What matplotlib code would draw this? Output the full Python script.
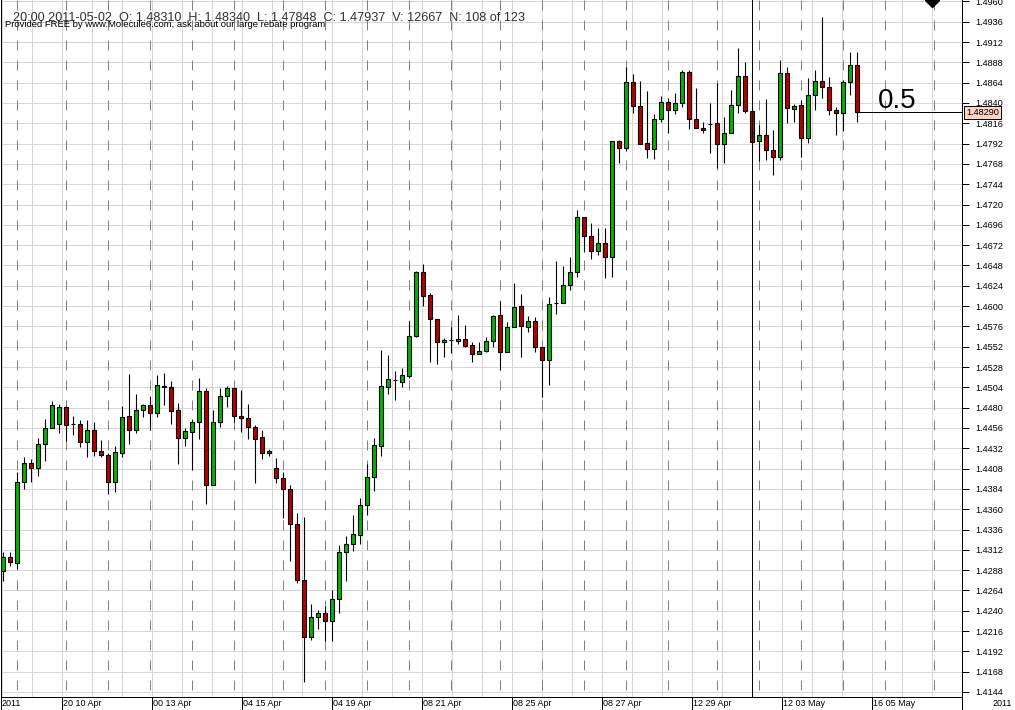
import matplotlib
matplotlib.use('Agg')
import matplotlib.pyplot as plt
import numpy as np
from matplotlib.lines import Line2D

plt.rcParams['font.family'] = ['Liberation Sans', 'DejaVu Sans']

# 4h EURUSD-style bars
opens = [
    1.42869, 1.43035, 1.42964, 1.43921, 1.44145, 1.44086, 1.44370, 1.44559, 1.44606, 1.44807,
    1.44606, 1.44606, 1.44393, 1.44535, 1.44287, 1.44240, 1.43921, 1.44264, 1.44701, 1.44535,
    1.44771, 1.44831, 1.44736, 1.45043, 1.45043, 1.44771, 1.44441, 1.44511, 1.44630, 1.44996,
    1.43885, 1.44630, 1.44937, 1.45031, 1.44701, 1.44677, 1.44571, 1.44452, 1.44264, 1.44086,
    1.43968, 1.43838, 1.43424, 1.42763, 1.42089, 1.42326, 1.42373, 1.42278, 1.42538, 1.43094,
    1.43188, 1.43294, 1.43649, 1.43980, 1.44346, 1.45043, 1.45126, 1.45102, 1.45173, 1.45646,
    1.46402, 1.46130, 1.45847, 1.45575, 1.45599, 1.45587, 1.45610, 1.45539, 1.45433, 1.45469,
    1.45587, 1.45894, 1.45457, 1.45752, 1.46000, 1.45752, 1.45823, 1.45516, 1.45362, 1.46036,
    1.46036, 1.46248, 1.46402, 1.47052, 1.46827, 1.46650, 1.46745, 1.46579, 1.47950, 1.47867,
    1.48647, 1.48364, 1.47926, 1.47855, 1.48210, 1.48411, 1.48316, 1.48399, 1.48765, 1.48210,
    1.48104, 1.48151, 1.48163, 1.47914, 1.48044, 1.48375, 1.48718, 1.48310, 1.47950, 1.48021,
    1.47844, 1.47761, 1.48753, 1.48328, 1.48375, 1.47985, 1.48493, 1.48659, 1.48588, 1.48316,
    1.48281, 1.48647, 1.48848,
]
highs = [
    1.43094, 1.43094, 1.44039, 1.44216, 1.44193, 1.44441, 1.44665, 1.44878, 1.44842, 1.44819,
    1.44701, 1.44653, 1.44653, 1.44630, 1.44417, 1.44264, 1.44346, 1.44819, 1.45197, 1.44960,
    1.44842, 1.44937, 1.45185, 1.45209, 1.45114, 1.44854, 1.44559, 1.44665, 1.45150, 1.45031,
    1.44771, 1.45031, 1.45055, 1.45031, 1.45008, 1.44842, 1.44594, 1.44535, 1.44311, 1.44204,
    1.44039, 1.43885, 1.43554, 1.43507, 1.42479, 1.42408, 1.42456, 1.42645, 1.43176, 1.43282,
    1.43531, 1.43732, 1.44133, 1.44441, 1.45480, 1.45421, 1.45232, 1.45268, 1.45823, 1.46414,
    1.46497, 1.46154, 1.45847, 1.45622, 1.45752, 1.45894, 1.45776, 1.45575, 1.45575, 1.45634,
    1.45894, 1.46059, 1.45811, 1.46272, 1.46142, 1.45882, 1.45870, 1.45516, 1.46107, 1.46532,
    1.46473, 1.46579, 1.47135, 1.47052, 1.46981, 1.46922, 1.46922, 1.47950, 1.47962, 1.48824,
    1.48742, 1.48659, 1.48541, 1.48269, 1.48482, 1.48458, 1.48517, 1.48789, 1.48789, 1.48576,
    1.48174, 1.48399, 1.48635, 1.48234, 1.48553, 1.49049, 1.48883, 1.48340, 1.48139, 1.48446,
    1.48080, 1.48907, 1.48824, 1.48387, 1.48434, 1.48694, 1.48789, 1.49415, 1.48706, 1.48352,
    1.48671, 1.49002, 1.49002,
]
lows = [
    1.42751, 1.42928, 1.42893, 1.43838, 1.43921, 1.43992, 1.44169, 1.44559, 1.44500, 1.44405,
    1.44476, 1.44334, 1.44216, 1.44228, 1.44216, 1.43779, 1.43803, 1.44216, 1.44370, 1.44500,
    1.44689, 1.44535, 1.44689, 1.44831, 1.44606, 1.44133, 1.44346, 1.44062, 1.44429, 1.43661,
    1.43885, 1.44571, 1.44807, 1.44630, 1.44511, 1.44429, 1.43909, 1.44193, 1.44228, 1.43909,
    1.43495, 1.42987, 1.42727, 1.41557, 1.42054, 1.42184, 1.42042, 1.42042, 1.42373, 1.42751,
    1.43105, 1.43188, 1.43531, 1.43814, 1.44228, 1.44960, 1.44890, 1.45043, 1.45150, 1.45634,
    1.46000, 1.45339, 1.45315, 1.45398, 1.45445, 1.45551, 1.45516, 1.45339, 1.45433, 1.45457,
    1.45516, 1.45244, 1.45457, 1.45752, 1.45398, 1.45693, 1.45457, 1.44925, 1.45067, 1.45906,
    1.46036, 1.46189, 1.46343, 1.46638, 1.46556, 1.46603, 1.46331, 1.46343, 1.47690, 1.47832,
    1.48281, 1.47914, 1.47749, 1.47737, 1.48174, 1.48044, 1.48269, 1.48352, 1.48092, 1.48104,
    1.48044, 1.47808, 1.47631, 1.47690, 1.48044, 1.48281, 1.48281, 1.47848, 1.47714, 1.47725,
    1.47548, 1.47725, 1.48163, 1.48174, 1.47761, 1.47926, 1.48316, 1.48458, 1.48257, 1.48021,
    1.48068, 1.48493, 1.48174,
]
closes = [
    1.43035, 1.42975, 1.43921, 1.44145, 1.44086, 1.44370, 1.44559, 1.44831, 1.44807, 1.44594,
    1.44606, 1.44393, 1.44535, 1.44287, 1.44240, 1.43921, 1.44275, 1.44689, 1.44535, 1.44771,
    1.44831, 1.44736, 1.45067, 1.45055, 1.44760, 1.44441, 1.44523, 1.44630, 1.44996, 1.43885,
    1.44630, 1.44937, 1.45031, 1.44701, 1.44677, 1.44571, 1.44429, 1.44264, 1.44287, 1.43968,
    1.43838, 1.43424, 1.42763, 1.42089, 1.42326, 1.42373, 1.42278, 1.42538, 1.43094, 1.43188,
    1.43306, 1.43649, 1.43980, 1.44358, 1.45055, 1.45138, 1.45126, 1.45185, 1.45646, 1.46402,
    1.46118, 1.45847, 1.45575, 1.45599, 1.45599, 1.45610, 1.45528, 1.45433, 1.45469, 1.45587,
    1.45882, 1.45457, 1.45752, 1.45988, 1.45764, 1.45823, 1.45516, 1.45362, 1.46024, 1.46036,
    1.46248, 1.46402, 1.47052, 1.46827, 1.46650, 1.46745, 1.46579, 1.47950, 1.47867, 1.48647,
    1.48364, 1.47914, 1.47855, 1.48210, 1.48411, 1.48316, 1.48399, 1.48765, 1.48210, 1.48104,
    1.48080, 1.48151, 1.47914, 1.48044, 1.48375, 1.48718, 1.48304, 1.47937, 1.48021, 1.47844,
    1.47761, 1.48753, 1.48340, 1.48364, 1.47985, 1.48493, 1.48659, 1.48588, 1.48316, 1.48281,
    1.48647, 1.48848, 1.48290,
]

day_start_bars = [2, 9, 15, 21, 27, 33, 40, 46, 52, 58, 64, 71, 77, 83, 89, 95, 102, 108, 114, 120, 126, 133]
date_labels = ['20 10 Apr', '00 13 Apr', '04 15 Apr', '04 19 Apr', '08 21 Apr',
               '08 25 Apr', '08 27 Apr', '12 29 Apr', '12 03 May', '16 05 May']
header = '20:00 2011-05-02  O: 1.48310  H: 1.48340  L: 1.47848  C: 1.47937  V: 12667  N: 108 of 123'
promo = 'Provided FREE by www.Molecule6.com, ask about our large rebate program'
cursor_bar = 107
level_label = '0.5'

UP = '#00B400'
DOWN = '#B40000'
GRID = '#D6D6D6'
DASH = '#808080'
LW = 0.72  # one pixel

W, H = 1015, 710
fig = plt.figure(figsize=(W / 100, H / 100), dpi=100)
ax = fig.add_axes([1 / W, 13 / H, 961 / W, 697 / H])

# bar spacing 7 px, first bar centre at 3.3 px
def px_to_bar(px):
    return (px - 3.3) / 7.0

ax.set_xlim(px_to_bar(1), px_to_bar(962))
ax.set_ylim(1.413809, 1.496164)

# price grid / ticks
yticks = np.round(np.arange(1.4144, 1.4961, 0.0024), 4)
ax.set_yticks(yticks)
ax.set_yticklabels([f'{v:.4f}' for v in yticks])
ax.yaxis.tick_right()
ax.tick_params(axis='y', direction='out', length=5, width=LW, pad=4.3,
               labelsize=6.6, colors='black')
ax.tick_params(axis='x', bottom=False, labelbottom=False)
for v in yticks:
    ax.axhline(v, color=GRID, lw=LW, zorder=0)

# solid vertical grid every 30 px
grid_px = np.arange(1.7, 962, 30)
for gx in grid_px:
    ax.axvline(px_to_bar(gx), color=GRID, lw=LW, zorder=0)

# dashed day separators (drawn from the top down)
for b in day_start_bars:
    ax.add_line(Line2D([b, b], [1, 0], transform=ax.get_xaxis_transform(),
                       color=DASH, lw=LW, linestyle=(0, (10, 10)), zorder=0.5))

ax.spines['top'].set_visible(False)
for s in ['left', 'right', 'bottom']:
    ax.spines[s].set_linewidth(LW)
    ax.spines[s].set_color('black')

# candles
x = np.arange(len(opens))
o = np.array(opens)
h = np.array(highs)
l = np.array(lows)
c = np.array(closes)
ax.vlines(x, l, h, color='black', lw=LW * 1.1, zorder=2)
colors = [UP if cc > oo else (DOWN if cc < oo else 'black') for oo, cc in zip(o, c)]
heights = np.maximum(np.abs(c - o), 0.00002)
ax.bar(x, heights, bottom=np.minimum(o, c), width=0.6, color=colors,
       edgecolor='black', linewidth=LW * 1.1, zorder=3)

# cursor line and last price line
ax.axvline(cursor_bar - 0.1, color='black', lw=LW, zorder=4)
last = closes[-1]
ax.hlines(last, x[-1], px_to_bar(962), color='black', lw=LW, zorder=4)
ax.annotate(level_label, (px_to_bar(878), last), xytext=(0, 3), textcoords='offset points',
            fontsize=20, va='baseline', ha='left', color='black', zorder=5)
ax.text(1.0045, last, f'{last:.5f}', transform=ax.get_yaxis_transform(),
        fontsize=6.6, ha='left', va='center', clip_on=False, zorder=6,
        bbox=dict(boxstyle='square,pad=0.22', fc='#FDD3C3', ec='black', lw=LW))

# marker at the top edge
ax.plot([px_to_bar(931.7)], [1.496164], marker='D', ms=7, color='black', zorder=5)

# date strip below the plot
trans = ax.get_xaxis_transform()
strip = 13 / 697
label_px = grid_px[2::3]
ax.vlines([px_to_bar(p) for p in label_px], -strip, 0, transform=trans,
          color='black', lw=LW, clip_on=False)
for p, lab in zip(label_px, date_labels):
    ax.text(px_to_bar(p + 1.5), -strip * 0.5, lab, transform=trans, fontsize=6.5,
            ha='left', va='center', clip_on=False)
ax.text(px_to_bar(2), -strip * 0.5, '2011', transform=trans, fontsize=6.5,
        ha='left', va='center', clip_on=False)
fig.add_artist(Line2D([962 / W, 962 / W], [0, 13 / H], color='black', lw=LW))
fig.add_artist(Line2D([0.5 / W, 0.5 / W], [0, 13 / H], color='black', lw=LW))
fig.text(1012 / W, 6.5 / H, '2011', fontsize=6.5, ha='right', va='center')

# header text
fig.text(13 / W, 1 - 21 / H, header, fontsize=9.1, color='#303030', va='baseline', ha='left')
fig.text(5 / W, 1 - 27 / H, promo, fontsize=6.8, color='black', va='baseline', ha='left')

fig.savefig('out.png', dpi=100)
